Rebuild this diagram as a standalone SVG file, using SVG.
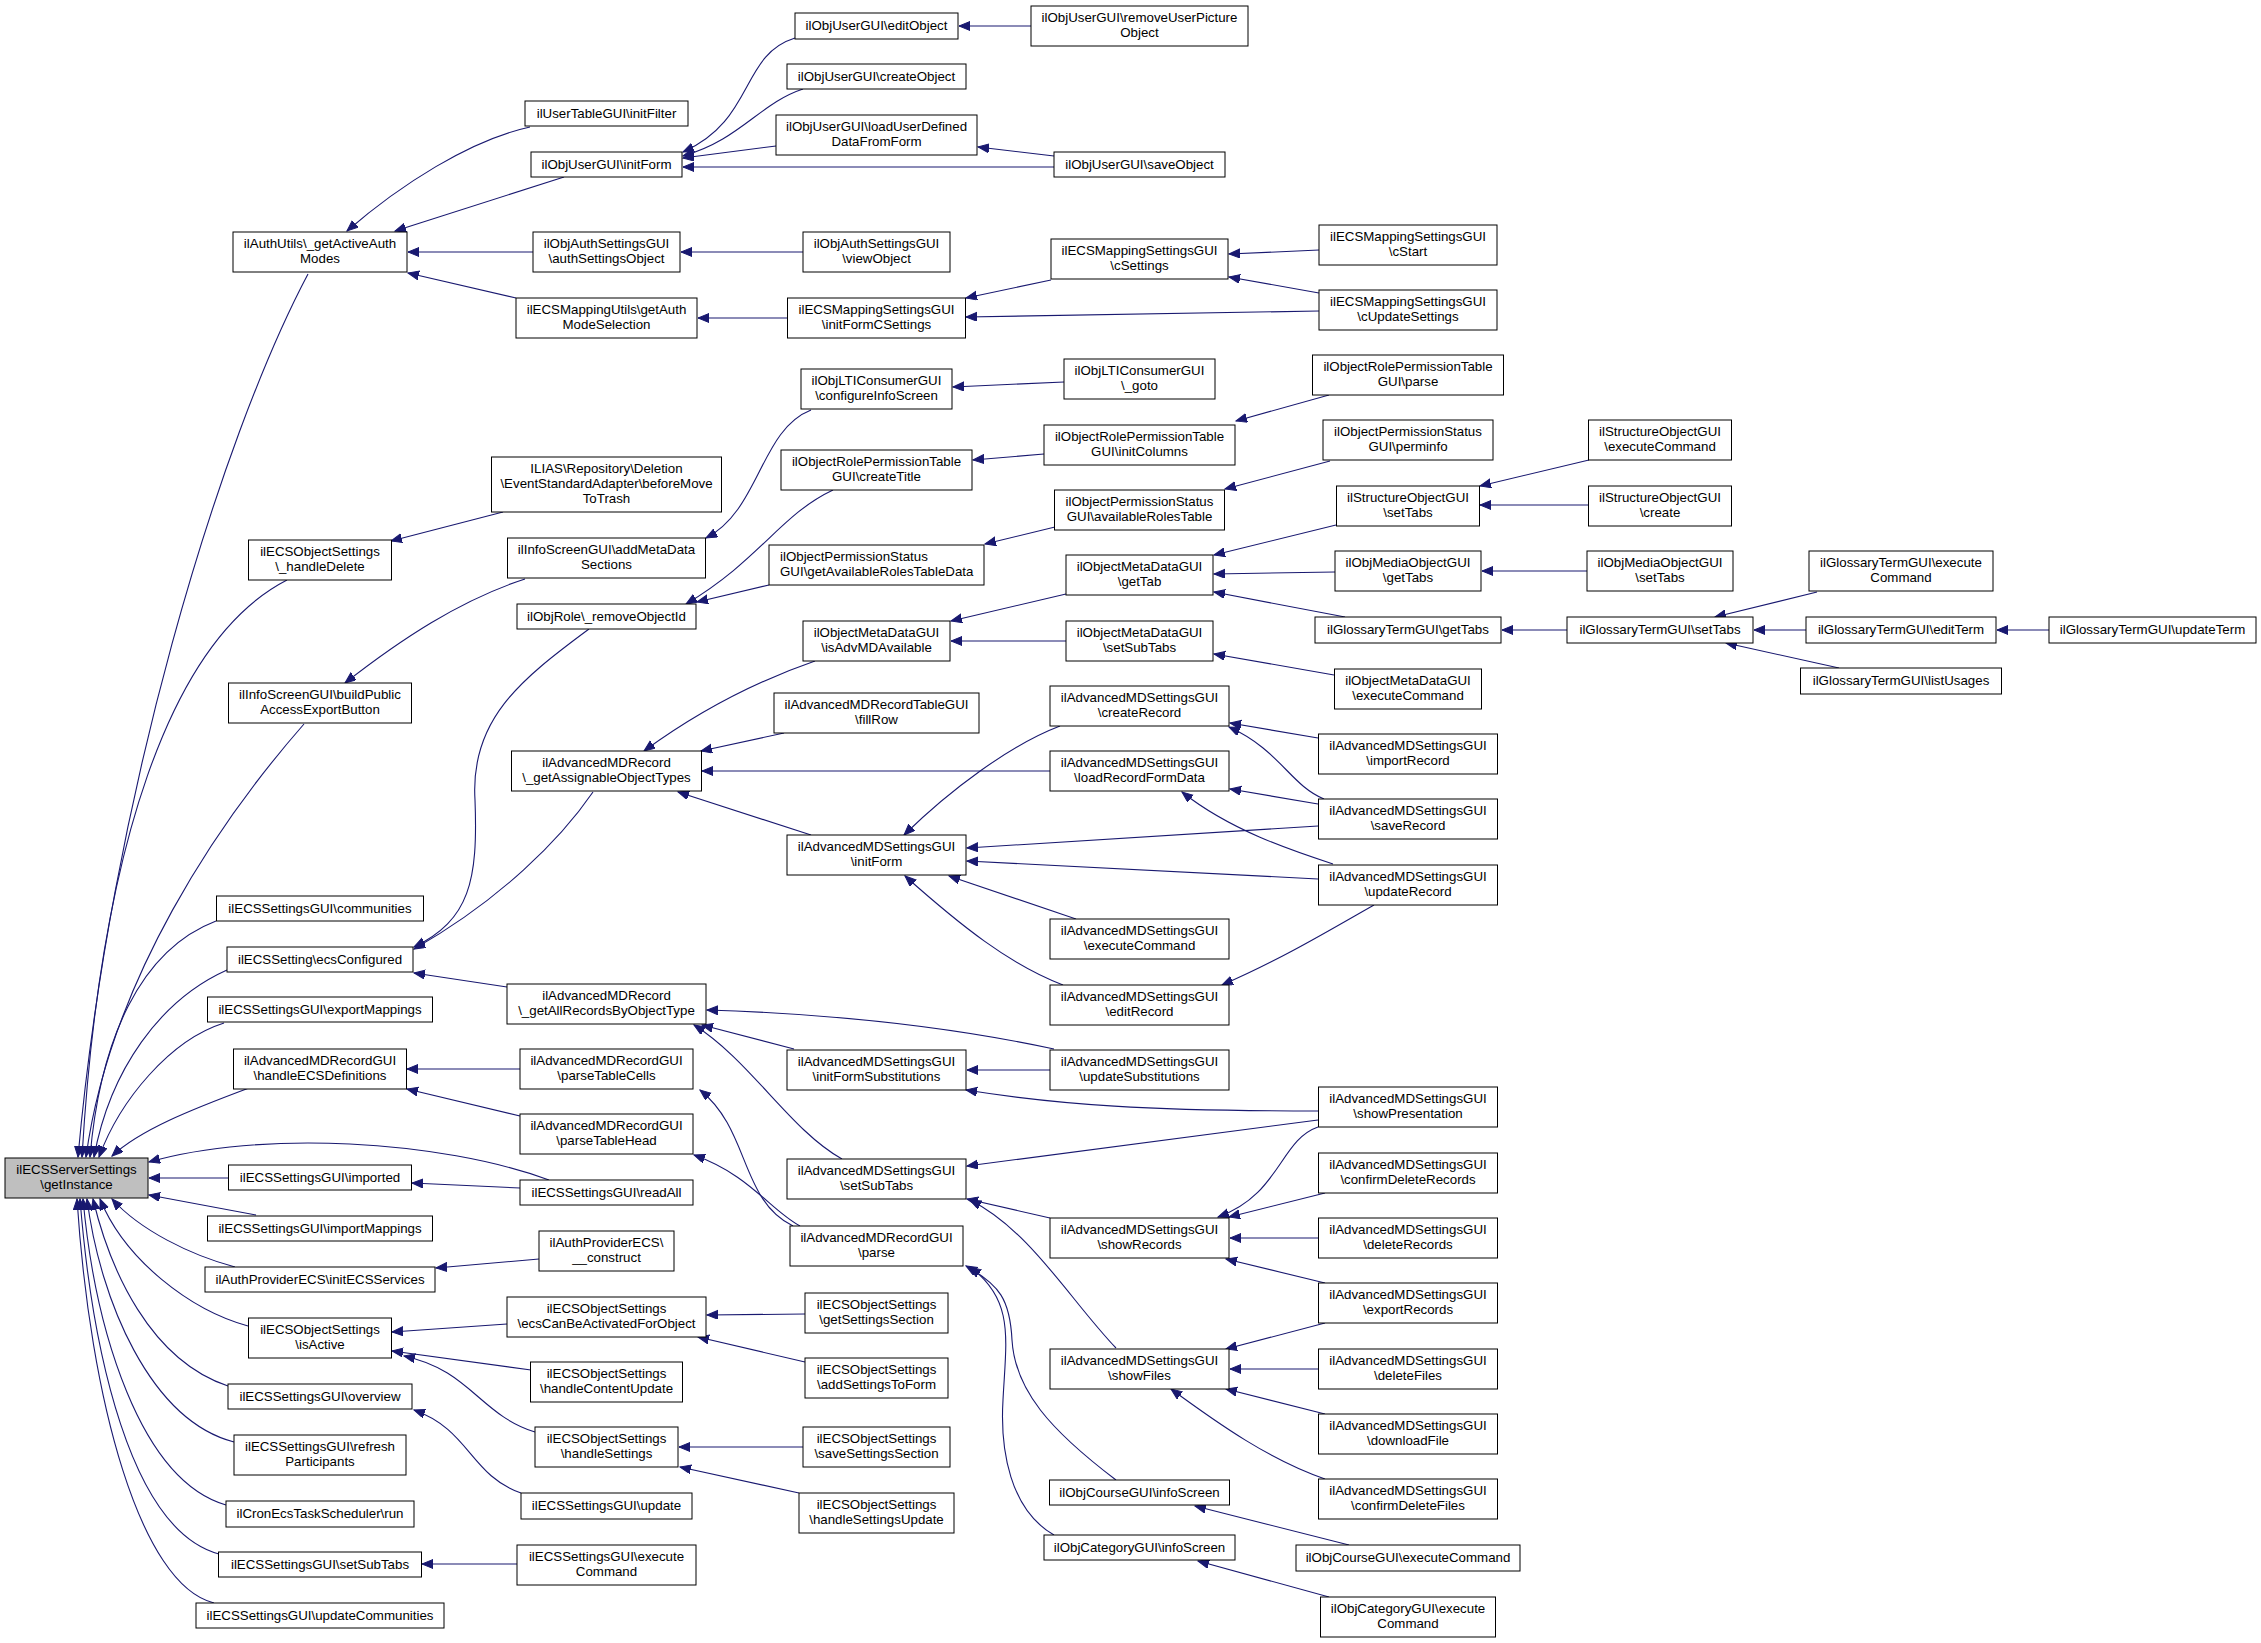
<svg xmlns="http://www.w3.org/2000/svg" width="2261" height="1643" viewBox="0 0 2261 1643">
<style>
.n rect{fill:#fff;stroke:#000;stroke-width:1}
.n text{font-family:"Liberation Sans",Arial,Helvetica,sans-serif;font-size:13.3px;text-anchor:middle;fill:#000}
.n text.l{text-anchor:start}
#n1 rect{fill:#bfbfbf}
.e path{fill:none;stroke:#191970;stroke-width:1.1;marker-end:url(#a)}
</style>
<defs>
<marker id="a" markerUnits="userSpaceOnUse" markerWidth="13" markerHeight="10" refX="11" refY="4.5" orient="auto">
<path d="M0,0 L11,4.5 L0,9 z" fill="#191970" stroke="#191970" stroke-width="1"/>
</marker>
</defs>
<rect width="2261" height="1643" fill="#fff"/>
<g id="edges" class="e">
<path d="M308,274 C220,440 110,800 78,1157"/>
<path d="M287,580 C170,640 100,850 82,1157"/>
<path d="M304,724 C220,820 110,980 86,1157"/>
<path d="M216,921 C140,950 100,1040 90,1157"/>
<path d="M227,970 C160,1000 110,1070 94,1157"/>
<path d="M224,1023 C170,1040 120,1100 99,1157"/>
<path d="M249,1088 C190,1110 140,1130 112,1156"/>
<path d="M549,1180 C440,1140 260,1130 149,1162"/>
<path d="M228,1178 L149,1178"/>
<path d="M256,1215 L149,1195"/>
<path d="M235,1267 C190,1255 140,1230 112,1199"/>
<path d="M248,1326 C190,1310 125,1260 100,1199"/>
<path d="M228,1386 C150,1360 110,1270 93,1199"/>
<path d="M234,1442 C150,1420 100,1300 87,1199"/>
<path d="M226,1505 C140,1480 95,1330 83,1199"/>
<path d="M219,1554 C130,1530 92,1350 80,1199"/>
<path d="M214,1603 C140,1585 90,1400 77,1199"/>
<path d="M530,127 C470,140 400,185 347,231"/>
<path d="M564,177 L395,231"/>
<path d="M533,252 L408,252"/>
<path d="M516,298 L408,273"/>
<path d="M795,38 C740,55 755,120 683,152"/>
<path d="M803,89 C760,103 740,140 683,156"/>
<path d="M776,146 L683,158"/>
<path d="M1054,167 L683,167"/>
<path d="M1054,156 L978,147"/>
<path d="M1031,26 L959,26"/>
<path d="M803,252 L681,252"/>
<path d="M787,318 L698,318"/>
<path d="M1051,280 L966,298"/>
<path d="M1319,311 L966,317"/>
<path d="M1319,250 L1229,254"/>
<path d="M1319,293 L1229,277"/>
<path d="M503,512 L391,541"/>
<path d="M525,579 C460,600 400,640 345,683"/>
<path d="M811,410 C760,430 760,510 706,538"/>
<path d="M1064,382 L953,387"/>
<path d="M589,629 C520,680 470,720 475,800 C478,880 470,920 414,947"/>
<path d="M593,792 C560,840 500,900 414,949"/>
<path d="M507,987 L414,973"/>
<path d="M833,490 C780,515 760,560 686,604"/>
<path d="M769,585 L697,602"/>
<path d="M1044,454 L973,460"/>
<path d="M1329,395 L1236,421"/>
<path d="M1055,527 L985,544"/>
<path d="M1330,461 L1225,489"/>
<path d="M815,661 C760,680 700,710 644,751"/>
<path d="M784,733 L701,751"/>
<path d="M1050,771 L702,771"/>
<path d="M811,835 L678,792"/>
<path d="M1066,594 L951,621"/>
<path d="M1066,641 L951,641"/>
<path d="M1336,525 L1214,555"/>
<path d="M1335,572 L1214,574"/>
<path d="M1345,617 L1214,592"/>
<path d="M1589,460 L1480,486"/>
<path d="M1589,505 L1480,505"/>
<path d="M1587,571 L1482,571"/>
<path d="M1567,630 L1502,630"/>
<path d="M1817,592 L1715,617"/>
<path d="M1806,630 L1754,630"/>
<path d="M1839,668 L1726,643"/>
<path d="M2049,630 L1997,630"/>
<path d="M1334,675 L1214,654"/>
<path d="M1060,726 C1010,745 950,790 904,835"/>
<path d="M1318,826 L967,848"/>
<path d="M1318,879 L967,861"/>
<path d="M1076,919 L949,876"/>
<path d="M1063,985 C1010,965 960,925 905,876"/>
<path d="M1318,738 L1230,723"/>
<path d="M1324,799 C1290,785 1280,750 1229,727"/>
<path d="M1318,804 L1230,789"/>
<path d="M1333,864 C1290,850 1230,830 1182,792"/>
<path d="M1374,905 C1330,930 1280,960 1222,985"/>
<path d="M1054,1049 Q900,1016 707,1010"/>
<path d="M794,1049 L702,1025"/>
<path d="M842,1159 C790,1130 750,1060 694,1025"/>
<path d="M793,1226 C740,1200 750,1130 700,1090"/>
<path d="M800,1226 C770,1210 750,1175 694,1155"/>
<path d="M520,1069 L407,1069"/>
<path d="M520,1116 L407,1089"/>
<path d="M520,1188 L412,1183"/>
<path d="M539,1259 L436,1268"/>
<path d="M507,1324 L392,1332"/>
<path d="M531,1370 L392,1351"/>
<path d="M535,1432 C480,1415 470,1370 404,1356"/>
<path d="M805,1314 L707,1315"/>
<path d="M805,1362 L698,1337"/>
<path d="M803,1447 L679,1447"/>
<path d="M799,1493 L680,1467"/>
<path d="M521,1493 C470,1475 470,1430 414,1410"/>
<path d="M517,1564 L422,1564"/>
<path d="M1050,1070 L967,1070"/>
<path d="M1318,1111 C1150,1111 1060,1105 966,1090"/>
<path d="M1318,1120 L967,1166"/>
<path d="M1050,1218 L967,1199"/>
<path d="M1116,1348 C1070,1300 1030,1230 970,1200"/>
<path d="M1318,1127 C1280,1140 1280,1195 1218,1217"/>
<path d="M1325,1193 L1229,1217"/>
<path d="M1318,1238 L1230,1238"/>
<path d="M1325,1283 L1226,1259"/>
<path d="M1325,1323 L1226,1349"/>
<path d="M1318,1369 L1230,1369"/>
<path d="M1325,1414 L1226,1389"/>
<path d="M1325,1479 C1270,1460 1220,1425 1171,1389"/>
<path d="M1116,1480 C1050,1430 1015,1390 1012,1340 C1010,1300 1000,1285 966,1266"/>
<path d="M1054,1535 C1010,1510 1000,1450 1003,1400 C1006,1340 1015,1300 970,1267"/>
<path d="M1349,1545 L1195,1506"/>
<path d="M1329,1597 L1198,1561"/>
</g>
<g id="n1" class="n"><rect x="5" y="1158" width="143" height="40"/><text x="76.5" y="1174">ilECSServerSettings</text><text x="76.5" y="1189">\getInstance</text></g>
<g id="n2" class="n"><rect x="233" y="232" width="174" height="40"/><text x="320" y="248">ilAuthUtils\_getActiveAuth</text><text x="320" y="263">Modes</text></g>
<g id="n3" class="n"><rect x="525" y="101" width="163" height="25"/><text x="606.5" y="118">ilUserTableGUI\initFilter</text></g>
<g id="n4" class="n"><rect x="531" y="152" width="151" height="25"/><text x="606.5" y="169">ilObjUserGUI\initForm</text></g>
<g id="n5" class="n"><rect x="533" y="232" width="147" height="40"/><text x="606.5" y="248">ilObjAuthSettingsGUI</text><text x="606.5" y="263">\authSettingsObject</text></g>
<g id="n6" class="n"><rect x="516" y="298" width="181" height="40"/><text x="606.5" y="314">ilECSMappingUtils\getAuth</text><text x="606.5" y="329">ModeSelection</text></g>
<g id="n7" class="n"><rect x="491.5" y="457" width="230" height="55"/><text x="606.5" y="473">ILIAS\Repository\Deletion</text><text x="606.5" y="488">\EventStandardAdapter\beforeMove</text><text x="606.5" y="503">ToTrash</text></g>
<g id="n8" class="n"><rect x="248.5" y="540" width="143" height="40"/><text x="320" y="556">ilECSObjectSettings</text><text x="320" y="571">\_handleDelete</text></g>
<g id="n9" class="n"><rect x="507.5" y="538" width="198" height="40"/><text x="606.5" y="554">ilInfoScreenGUI\addMetaData</text><text x="606.5" y="569">Sections</text></g>
<g id="n10" class="n"><rect x="795" y="13" width="163" height="26"/><text x="876.5" y="30">ilObjUserGUI\editObject</text></g>
<g id="n11" class="n"><rect x="787" y="64" width="179" height="25"/><text x="876.5" y="81">ilObjUserGUI\createObject</text></g>
<g id="n12" class="n"><rect x="776" y="115" width="201" height="40"/><text x="876.5" y="131">ilObjUserGUI\loadUserDefined</text><text x="876.5" y="146">DataFromForm</text></g>
<g id="n13" class="n"><rect x="1031" y="6" width="217" height="40"/><text x="1139.5" y="22">ilObjUserGUI\removeUserPicture</text><text x="1139.5" y="37">Object</text></g>
<g id="n14" class="n"><rect x="1054" y="152" width="171" height="25"/><text x="1139.5" y="169">ilObjUserGUI\saveObject</text></g>
<g id="n15" class="n"><rect x="803" y="232" width="147" height="40"/><text x="876.5" y="248">ilObjAuthSettingsGUI</text><text x="876.5" y="263">\viewObject</text></g>
<g id="n16" class="n"><rect x="787.5" y="298" width="178" height="40"/><text x="876.5" y="314">ilECSMappingSettingsGUI</text><text x="876.5" y="329">\initFormCSettings</text></g>
<g id="n17" class="n"><rect x="1051" y="239" width="177" height="40"/><text x="1139.5" y="255">ilECSMappingSettingsGUI</text><text x="1139.5" y="270">\cSettings</text></g>
<g id="n18" class="n"><rect x="801" y="369" width="151" height="40"/><text x="876.5" y="385">ilObjLTIConsumerGUI</text><text x="876.5" y="400">\configureInfoScreen</text></g>
<g id="n19" class="n"><rect x="1064" y="359" width="151" height="40"/><text x="1139.5" y="375">ilObjLTIConsumerGUI</text><text x="1139.5" y="390">\_goto</text></g>
<g id="n20" class="n"><rect x="781" y="450" width="191" height="40"/><text x="876.5" y="466">ilObjectRolePermissionTable</text><text x="876.5" y="481">GUI\createTitle</text></g>
<g id="n21" class="n"><rect x="1044" y="425" width="191" height="40"/><text x="1139.5" y="441">ilObjectRolePermissionTable</text><text x="1139.5" y="456">GUI\initColumns</text></g>
<g id="n22" class="n"><rect x="1054.5" y="490" width="170" height="40"/><text x="1139.5" y="506">ilObjectPermissionStatus</text><text x="1139.5" y="521">GUI\availableRolesTable</text></g>
<g id="n23" class="n"><rect x="769" y="545" width="215" height="40"/><text class="l" x="780" y="561">ilObjectPermissionStatus</text><text class="l" x="780" y="576">GUI\getAvailableRolesTableData</text></g>
<g id="n24" class="n"><rect x="1319" y="225" width="178" height="40"/><text x="1408" y="241">ilECSMappingSettingsGUI</text><text x="1408" y="256">\cStart</text></g>
<g id="n25" class="n"><rect x="1319" y="290" width="178" height="40"/><text x="1408" y="306">ilECSMappingSettingsGUI</text><text x="1408" y="321">\cUpdateSettings</text></g>
<g id="n26" class="n"><rect x="1312.5" y="355" width="191" height="40"/><text x="1408" y="371">ilObjectRolePermissionTable</text><text x="1408" y="386">GUI\parse</text></g>
<g id="n27" class="n"><rect x="1323" y="420" width="170" height="40"/><text x="1408" y="436">ilObjectPermissionStatus</text><text x="1408" y="451">GUI\perminfo</text></g>
<g id="n28" class="n"><rect x="1336.5" y="486" width="143" height="40"/><text x="1408" y="502">ilStructureObjectGUI</text><text x="1408" y="517">\setTabs</text></g>
<g id="n29" class="n"><rect x="1588.5" y="420" width="143" height="40"/><text x="1660" y="436">ilStructureObjectGUI</text><text x="1660" y="451">\executeCommand</text></g>
<g id="n30" class="n"><rect x="1588.5" y="486" width="143" height="40"/><text x="1660" y="502">ilStructureObjectGUI</text><text x="1660" y="517">\create</text></g>
<g id="n31" class="n"><rect x="517" y="604" width="179" height="25"/><text x="606.5" y="621">ilObjRole\_removeObjectId</text></g>
<g id="n32" class="n"><rect x="803" y="621" width="147" height="40"/><text x="876.5" y="637">ilObjectMetaDataGUI</text><text x="876.5" y="652">\isAdvMDAvailable</text></g>
<g id="n33" class="n"><rect x="1066" y="555" width="147" height="40"/><text x="1139.5" y="571">ilObjectMetaDataGUI</text><text x="1139.5" y="586">\getTab</text></g>
<g id="n34" class="n"><rect x="1066" y="621" width="147" height="40"/><text x="1139.5" y="637">ilObjectMetaDataGUI</text><text x="1139.5" y="652">\setSubTabs</text></g>
<g id="n35" class="n"><rect x="774" y="693" width="205" height="40"/><text x="876.5" y="709">ilAdvancedMDRecordTableGUI</text><text x="876.5" y="724">\fillRow</text></g>
<g id="n36" class="n"><rect x="511.5" y="751" width="190" height="40"/><text x="606.5" y="767">ilAdvancedMDRecord</text><text x="606.5" y="782">\_getAssignableObjectTypes</text></g>
<g id="n37" class="n"><rect x="1050" y="686" width="179" height="40"/><text x="1139.5" y="702">ilAdvancedMDSettingsGUI</text><text x="1139.5" y="717">\createRecord</text></g>
<g id="n38" class="n"><rect x="1050" y="751" width="179" height="40"/><text x="1139.5" y="767">ilAdvancedMDSettingsGUI</text><text x="1139.5" y="782">\loadRecordFormData</text></g>
<g id="n39" class="n"><rect x="787" y="835" width="179" height="40"/><text x="876.5" y="851">ilAdvancedMDSettingsGUI</text><text x="876.5" y="866">\initForm</text></g>
<g id="n40" class="n"><rect x="1050" y="919" width="179" height="40"/><text x="1139.5" y="935">ilAdvancedMDSettingsGUI</text><text x="1139.5" y="950">\executeCommand</text></g>
<g id="n41" class="n"><rect x="1050" y="985" width="179" height="40"/><text x="1139.5" y="1001">ilAdvancedMDSettingsGUI</text><text x="1139.5" y="1016">\editRecord</text></g>
<g id="n42" class="n"><rect x="507" y="984" width="199" height="40"/><text x="606.5" y="1000">ilAdvancedMDRecord</text><text x="606.5" y="1015">\_getAllRecordsByObjectType</text></g>
<g id="n43" class="n"><rect x="787" y="1050" width="179" height="40"/><text x="876.5" y="1066">ilAdvancedMDSettingsGUI</text><text x="876.5" y="1081">\initFormSubstitutions</text></g>
<g id="n44" class="n"><rect x="1050" y="1050" width="179" height="40"/><text x="1139.5" y="1066">ilAdvancedMDSettingsGUI</text><text x="1139.5" y="1081">\updateSubstitutions</text></g>
<g id="n45" class="n"><rect x="520" y="1049" width="173" height="40"/><text x="606.5" y="1065">ilAdvancedMDRecordGUI</text><text x="606.5" y="1080">\parseTableCells</text></g>
<g id="n46" class="n"><rect x="233.5" y="1049" width="173" height="40"/><text x="320" y="1065">ilAdvancedMDRecordGUI</text><text x="320" y="1080">\handleECSDefinitions</text></g>
<g id="n47" class="n"><rect x="216.5" y="896" width="207" height="25"/><text x="320" y="913">ilECSSettingsGUI\communities</text></g>
<g id="n48" class="n"><rect x="227" y="947" width="186" height="25"/><text x="320" y="964">ilECSSetting\ecsConfigured</text></g>
<g id="n49" class="n"><rect x="207.5" y="997" width="225" height="25"/><text x="320" y="1014">ilECSSettingsGUI\exportMappings</text></g>
<g id="n50" class="n"><rect x="228.5" y="683" width="183" height="40"/><text x="320" y="699">ilInfoScreenGUI\buildPublic</text><text x="320" y="714">AccessExportButton</text></g>
<g id="n51" class="n"><rect x="1335" y="551" width="146" height="40"/><text x="1408" y="567">ilObjMediaObjectGUI</text><text x="1408" y="582">\getTabs</text></g>
<g id="n52" class="n"><rect x="1587" y="551" width="146" height="40"/><text x="1660" y="567">ilObjMediaObjectGUI</text><text x="1660" y="582">\setTabs</text></g>
<g id="n53" class="n"><rect x="1315" y="617" width="186" height="26"/><text x="1408" y="634">ilGlossaryTermGUI\getTabs</text></g>
<g id="n54" class="n"><rect x="1567" y="617" width="186" height="26"/><text x="1660" y="634">ilGlossaryTermGUI\setTabs</text></g>
<g id="n55" class="n"><rect x="1334.5" y="669" width="147" height="40"/><text x="1408" y="685">ilObjectMetaDataGUI</text><text x="1408" y="700">\executeCommand</text></g>
<g id="n56" class="n"><rect x="1318.5" y="734" width="179" height="40"/><text x="1408" y="750">ilAdvancedMDSettingsGUI</text><text x="1408" y="765">\importRecord</text></g>
<g id="n57" class="n"><rect x="1318.5" y="799" width="179" height="40"/><text x="1408" y="815">ilAdvancedMDSettingsGUI</text><text x="1408" y="830">\saveRecord</text></g>
<g id="n58" class="n"><rect x="1318.5" y="865" width="179" height="40"/><text x="1408" y="881">ilAdvancedMDSettingsGUI</text><text x="1408" y="896">\updateRecord</text></g>
<g id="n59" class="n"><rect x="1318.5" y="1087" width="179" height="40"/><text x="1408" y="1103">ilAdvancedMDSettingsGUI</text><text x="1408" y="1118">\showPresentation</text></g>
<g id="n60" class="n"><rect x="1809" y="551" width="184" height="40"/><text x="1901" y="567">ilGlossaryTermGUI\execute</text><text x="1901" y="582">Command</text></g>
<g id="n61" class="n"><rect x="1806" y="617" width="190" height="26"/><text x="1901" y="634">ilGlossaryTermGUI\editTerm</text></g>
<g id="n62" class="n"><rect x="2049" y="617" width="207" height="26"/><text x="2152.5" y="634">ilGlossaryTermGUI\updateTerm</text></g>
<g id="n63" class="n"><rect x="1800.5" y="668" width="201" height="26"/><text x="1901" y="685">ilGlossaryTermGUI\listUsages</text></g>
<g id="n64" class="n"><rect x="228.5" y="1165" width="183" height="25"/><text x="320" y="1182">ilECSSettingsGUI\imported</text></g>
<g id="n65" class="n"><rect x="207.5" y="1216" width="225" height="25"/><text x="320" y="1233">ilECSSettingsGUI\importMappings</text></g>
<g id="n66" class="n"><rect x="205" y="1267" width="230" height="25"/><text x="320" y="1284">ilAuthProviderECS\initECSServices</text></g>
<g id="n67" class="n"><rect x="248.5" y="1318" width="143" height="40"/><text x="320" y="1334">ilECSObjectSettings</text><text x="320" y="1349">\isActive</text></g>
<g id="n68" class="n"><rect x="228" y="1384" width="184" height="25"/><text x="320" y="1401">ilECSSettingsGUI\overview</text></g>
<g id="n69" class="n"><rect x="234" y="1435" width="172" height="40"/><text x="320" y="1451">ilECSSettingsGUI\refresh</text><text x="320" y="1466">Participants</text></g>
<g id="n70" class="n"><rect x="226" y="1501" width="188" height="26"/><text x="320" y="1518">ilCronEcsTaskScheduler\run</text></g>
<g id="n71" class="n"><rect x="218.5" y="1552" width="203" height="25"/><text x="320" y="1569">ilECSSettingsGUI\setSubTabs</text></g>
<g id="n72" class="n"><rect x="196" y="1603" width="248" height="25"/><text x="320" y="1620">ilECSSettingsGUI\updateCommunities</text></g>
<g id="n73" class="n"><rect x="520" y="1114" width="173" height="40"/><text x="606.5" y="1130">ilAdvancedMDRecordGUI</text><text x="606.5" y="1145">\parseTableHead</text></g>
<g id="n74" class="n"><rect x="520" y="1180" width="173" height="25"/><text x="606.5" y="1197">ilECSSettingsGUI\readAll</text></g>
<g id="n75" class="n"><rect x="539" y="1231" width="135" height="40"/><text x="606.5" y="1247">ilAuthProviderECS\</text><text x="606.5" y="1262">__construct</text></g>
<g id="n76" class="n"><rect x="507" y="1297" width="199" height="40"/><text x="606.5" y="1313">ilECSObjectSettings</text><text x="606.5" y="1328">\ecsCanBeActivatedForObject</text></g>
<g id="n77" class="n"><rect x="530.5" y="1362" width="152" height="40"/><text x="606.5" y="1378">ilECSObjectSettings</text><text x="606.5" y="1393">\handleContentUpdate</text></g>
<g id="n78" class="n"><rect x="535" y="1427" width="143" height="40"/><text x="606.5" y="1443">ilECSObjectSettings</text><text x="606.5" y="1458">\handleSettings</text></g>
<g id="n79" class="n"><rect x="521" y="1493" width="171" height="26"/><text x="606.5" y="1510">ilECSSettingsGUI\update</text></g>
<g id="n80" class="n"><rect x="517" y="1545" width="179" height="40"/><text x="606.5" y="1561">ilECSSettingsGUI\execute</text><text x="606.5" y="1576">Command</text></g>
<g id="n81" class="n"><rect x="787" y="1159" width="179" height="40"/><text x="876.5" y="1175">ilAdvancedMDSettingsGUI</text><text x="876.5" y="1190">\setSubTabs</text></g>
<g id="n82" class="n"><rect x="790" y="1226" width="173" height="40"/><text x="876.5" y="1242">ilAdvancedMDRecordGUI</text><text x="876.5" y="1257">\parse</text></g>
<g id="n83" class="n"><rect x="805" y="1293" width="143" height="40"/><text x="876.5" y="1309">ilECSObjectSettings</text><text x="876.5" y="1324">\getSettingsSection</text></g>
<g id="n84" class="n"><rect x="805" y="1358" width="143" height="40"/><text x="876.5" y="1374">ilECSObjectSettings</text><text x="876.5" y="1389">\addSettingsToForm</text></g>
<g id="n85" class="n"><rect x="803" y="1427" width="147" height="40"/><text x="876.5" y="1443">ilECSObjectSettings</text><text x="876.5" y="1458">\saveSettingsSection</text></g>
<g id="n86" class="n"><rect x="799" y="1493" width="155" height="40"/><text x="876.5" y="1509">ilECSObjectSettings</text><text x="876.5" y="1524">\handleSettingsUpdate</text></g>
<g id="n87" class="n"><rect x="1050" y="1218" width="179" height="40"/><text x="1139.5" y="1234">ilAdvancedMDSettingsGUI</text><text x="1139.5" y="1249">\showRecords</text></g>
<g id="n88" class="n"><rect x="1050" y="1349" width="179" height="40"/><text x="1139.5" y="1365">ilAdvancedMDSettingsGUI</text><text x="1139.5" y="1380">\showFiles</text></g>
<g id="n89" class="n"><rect x="1049.5" y="1480" width="180" height="25"/><text x="1139.5" y="1497">ilObjCourseGUI\infoScreen</text></g>
<g id="n90" class="n"><rect x="1044" y="1535" width="191" height="25"/><text x="1139.5" y="1552">ilObjCategoryGUI\infoScreen</text></g>
<g id="n91" class="n"><rect x="1318.5" y="1153" width="179" height="40"/><text x="1408" y="1169">ilAdvancedMDSettingsGUI</text><text x="1408" y="1184">\confirmDeleteRecords</text></g>
<g id="n92" class="n"><rect x="1318.5" y="1218" width="179" height="40"/><text x="1408" y="1234">ilAdvancedMDSettingsGUI</text><text x="1408" y="1249">\deleteRecords</text></g>
<g id="n93" class="n"><rect x="1318.5" y="1283" width="179" height="40"/><text x="1408" y="1299">ilAdvancedMDSettingsGUI</text><text x="1408" y="1314">\exportRecords</text></g>
<g id="n94" class="n"><rect x="1318.5" y="1349" width="179" height="40"/><text x="1408" y="1365">ilAdvancedMDSettingsGUI</text><text x="1408" y="1380">\deleteFiles</text></g>
<g id="n95" class="n"><rect x="1318.5" y="1414" width="179" height="40"/><text x="1408" y="1430">ilAdvancedMDSettingsGUI</text><text x="1408" y="1445">\downloadFile</text></g>
<g id="n96" class="n"><rect x="1318.5" y="1479" width="179" height="40"/><text x="1408" y="1495">ilAdvancedMDSettingsGUI</text><text x="1408" y="1510">\confirmDeleteFiles</text></g>
<g id="n97" class="n"><rect x="1296" y="1545" width="224" height="26"/><text x="1408" y="1562">ilObjCourseGUI\executeCommand</text></g>
<g id="n98" class="n"><rect x="1320.5" y="1597" width="175" height="40"/><text x="1408" y="1613">ilObjCategoryGUI\execute</text><text x="1408" y="1628">Command</text></g>
</svg>
